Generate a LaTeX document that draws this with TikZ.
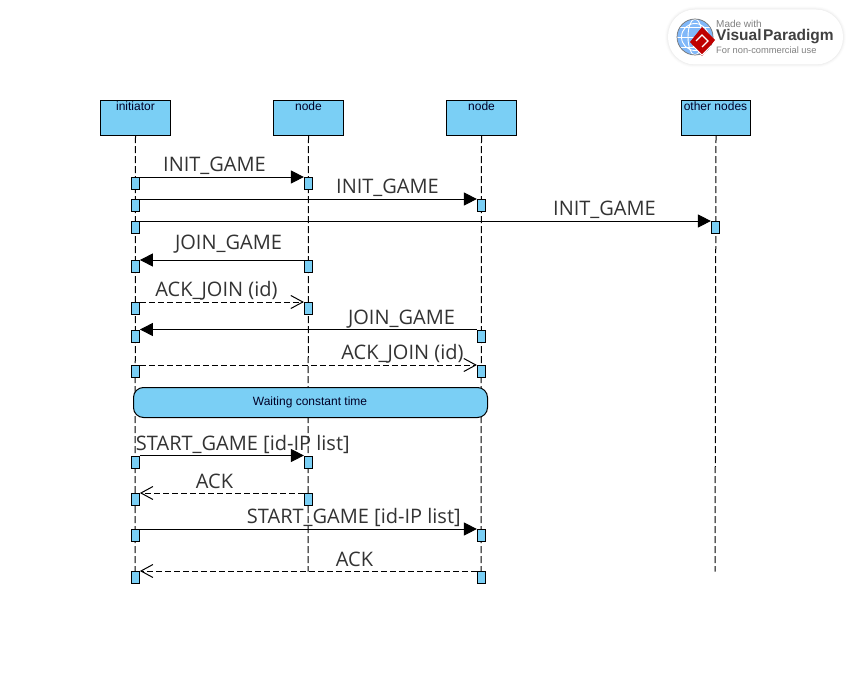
\documentclass[tikz,border=0pt]{standalone}
\usepackage{fontspec}
\setmainfont{Liberation Sans}
\newfontfamily\msgfont{Open Sans}
\usetikzlibrary{arrows.meta}
\definecolor{vpblue}{HTML}{7ACFF5}
\definecolor{vptext}{HTML}{333333}
\tikzset{
  x=1pt,y=-1pt,
  headbox/.style={draw=black,fill=vpblue,line width=1pt,minimum width=70,minimum height=35,inner sep=0pt,anchor=north west},
  headtext/.style={font=\fontsize{12}{13}\selectfont,text=black!85!blue,inner sep=0pt},
  lifeline/.style={draw=black,line width=1pt,dash pattern=on 7pt off 3pt},
  actbar/.style={draw=black,fill=vpblue,line width=1pt,minimum width=8,minimum height=12,inner sep=0pt},
  syncmsg/.style={draw=black,line width=1pt,-{Triangle[length=13pt,width=13pt]}},
  replymsg/.style={draw=black,line width=1pt,dash pattern=on 6pt off 3pt,-{Straight Barb[length=12pt,width=13pt,line width=1pt]}},
  msgtext/.style={font=\msgfont\fontsize{20}{22}\selectfont,text=vptext,inner sep=0pt},
  framebox/.style={draw=black,fill=vpblue,line width=1pt,rounded corners=10pt,minimum width=354,minimum height=30,inner sep=0pt,anchor=north west},
  frametext/.style={font=\fontsize{12}{13}\selectfont,text=black!85!blue,inner sep=0pt},
  logotext/.style={inner sep=0pt,anchor=west},
}
\begin{document}
\begin{tikzpicture}
\useasboundingbox (0,0) rectangle (851,685);
\fill[white] (0,0) rectangle (851,685);

% watermark
\foreach \w/\o in {6/0.012,4/0.015,2.5/0.02,1/0.025}
  \draw[black,opacity=\o,line width=\w pt,rounded corners=27pt] (668,9.5) rectangle (843,64.5);
\fill[white,rounded corners=27pt] (668,9.5) rectangle (843,64.5);
\fill[vpblue!80!blue!80!white] (695,37) circle (18);
\draw[white,line width=0.9pt] (695,37) circle (13.5);
\draw[white,line width=0.9pt] (695,37) ellipse (7 and 18);
\draw[white,line width=0.9pt] (677,37) -- (713,37);
\draw[white,line width=0.9pt] (680,27) -- (710,27);
\draw[white,line width=0.9pt] (680,47) -- (710,47);
\draw[black!55,line width=0.7pt] (695,37) circle (18);
\fill[red!75!black] (702,27) -- (715,40) -- (702,56) -- (690,42) -- cycle;
\draw[white,line width=1.2pt] (696,41) -- (702,35) -- (708,41) -- (702,47);
\draw[white,line width=0.8pt] (693,46) -- (702,55) -- (711,46);
\node[logotext,text=black!50,font=\fontsize{10}{11}\selectfont] (logoa) at (716,24) {Made with};
\node[logotext,text=black!75,font=\bfseries\fontsize{15.5}{16}\selectfont] (logob) at (716,37) {Visual\kern1.5pt Paradigm};
\node[logotext,text=black!50,font=\fontsize{9.3}{10}\selectfont] (logoc) at (716,50) {For non-commercial use};

% heads
\node[headbox] (h1) at (100,100) {};
\node[headbox] (h2) at (273,100) {};
\node[headbox] (h3) at (446,100) {};
\node[headbox,minimum width=69] (h4) at (681,100) {};
\node[headtext] (t1) at (135.5,106.5) {initiator};
\node[headtext] (t2) at (308.5,106.5) {node};
\node[headtext] (t3) at (481.5,106.5) {node};
\node[headtext] (t4) at (715.5,106.5) {other nodes};

% lifeline ends
\coordinate (e1) at (135,583);
\coordinate (e2) at (308,571.5);
\coordinate (e3) at (481,583);
\coordinate (e4) at (715,571.5);
\draw[lifeline] (h1.south) -- (e1);
\draw[lifeline] (h2.south) -- (e2);
\draw[lifeline] (h3.south) -- (e3);
\draw[lifeline] (h4.south) -- (e4);

% activation bars
\foreach \n/\x/\y in {
  a1/135.4/183.5, b1/308.4/183.5,
  a2/135.4/205.5, c2/481.4/205.5,
  a3/135.4/227.5, d3/715.4/227.5,
  a4/135.4/266.5, b4/308.4/266.5,
  a5/135.4/308.5, b5/308.4/308.5,
  a6/135.4/336, c6/481.4/336,
  a7/135.4/371.5, c7/481.4/371.5,
  a8/135.4/462, b8/308.4/462,
  a9/135.4/499.5, b9/308.4/499.5,
  a10/135.4/535.5, c10/481.4/535.5,
  a11/135.4/577.5, c11/481.4/577.5}
  \node[actbar] (\n) at (\x,\y) {};

% messages
\draw[syncmsg] (a1.north east) -- (b1.north west);
\draw[syncmsg] (a2.north east) -- (c2.north west);
\draw[syncmsg] (a3.north east) -- (d3.north west);
\draw[syncmsg] (b4.north west) -- (a4.north east);
\draw[replymsg] (a5.north east) -- (b5.north west);
\draw[syncmsg] (c6.north west) -- (a6.north east);
\draw[replymsg] (a7.north east) -- (c7.north west);
\draw[syncmsg] (a8.north east) -- (b8.north west);
\draw[replymsg] (b9.north west) -- (a9.north east);
\draw[syncmsg] (a10.north east) -- (c10.north west);
\draw[replymsg] (c11.north west) -- (a11.north east);

% labels
\node[msgtext] (m1) at (214.5,165.7) {INIT\_GAME};
\node[msgtext] (m2) at (387.5,187.7) {INIT\_GAME};
\node[msgtext] (m3) at (604.5,209.7) {INIT\_GAME};
\node[msgtext] (m4) at (228.5,243.7) {JOIN\_GAME};
\node[msgtext] (m5) at (216.5,290.7) {ACK\_JOIN (id)};
\node[msgtext] (m6) at (401.5,318.7) {JOIN\_GAME};
\node[msgtext] (m7) at (402.5,353.7) {ACK\_JOIN (id)};
\node[msgtext] (m8) at (242.8,444.7) {START\_GAME [id-IP list]};
\node[msgtext] (m9) at (214.5,481) {ACK};
\node[msgtext] (m10) at (353.8,517.7) {START\_GAME [id-IP list]};
\node[msgtext] (m11) at (354.5,559) {ACK};

% combined frame
\node[framebox] (wait) at (133,387) {};
\node[frametext] (waittext) at (310,402) {Waiting constant time};
\end{tikzpicture}
\end{document}
